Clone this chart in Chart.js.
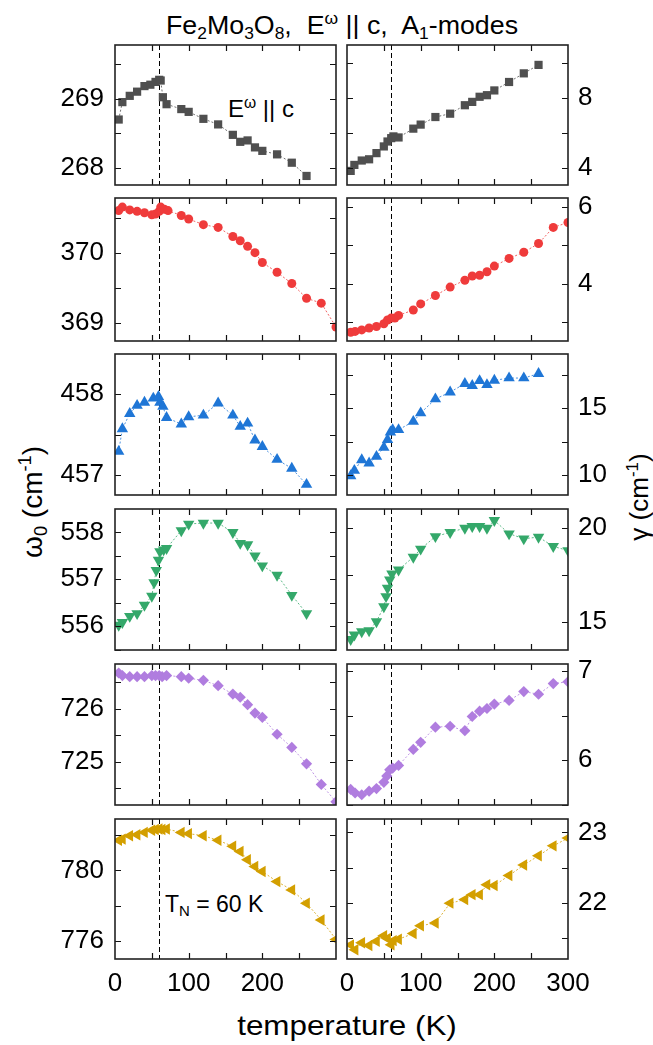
<!DOCTYPE html>
<html>
<head>
<meta charset="utf-8">
<script src="https://cdn.jsdelivr.net/npm/chart.js@4.4.1/dist/chart.umd.min.js"></script>
<style>
  body { margin: 0; background: #fff; }
  #wrap { position: relative; width: 653px; height: 1045px; font-family: "Liberation Sans", Arial, sans-serif; color: #000; overflow: hidden; }
  canvas { position: absolute; }
  .txt { position: absolute; white-space: pre; line-height: 1; }
  .sb { font-size: 0.65em; position: relative; top: 0.3em; }
  .sp { font-size: 0.65em; position: relative; top: -0.6em; }
  .rot { position: absolute; white-space: pre; line-height: 1; transform: translate(-50%, -50%) rotate(-90deg); }
</style>
</head>
<body>
<div id="wrap">
  <div class="txt" style="left:342px; top:12px; font-size:26px; transform:translateX(-50%) scaleX(1.03);">Fe<span class="sb">2</span>Mo<span class="sb">3</span>O<span class="sb">8</span>,  E<span class="sp">ω</span> || c,  A<span class="sb">1</span>-modes</div>
  <div class="txt" style="left:228px; top:97px; font-size:24px;">E<span class="sp">ω</span> || c</div>
  <div class="txt" style="left:165px; top:893px; font-size:23px;">T<span class="sb">N</span> = 60 K</div>
  <div class="txt" style="left:347px; top:1012px; font-size:28px; transform:translateX(-50%) scaleX(1.12);">temperature (K)</div>
  <div class="rot" style="left:33px; top:502px; font-size:28px;">ω<span class="sb">0</span> (cm<span class="sp">-1</span>)</div>
  <div class="rot" style="left:639px; top:497px; font-size:26px;">γ (cm<span class="sp">-1</span>)</div>
</div>
<script>
// temperatures (K) and fitted parameters
const T_N = 60;

const temp1L = [5, 10, 20, 30, 40, 48, 55, 60, 62, 65, 70, 90, 100, 120, 140, 160, 170, 180, 190, 200, 220, 240, 260];
const omega1 = [268.70, 268.95, 269.04, 269.10, 269.18, 269.20, 269.24, 269.27, 269.26, 269.02, 268.92, 268.85, 268.81, 268.71, 268.63, 268.48, 268.38, 268.40, 268.30, 268.25, 268.20, 268.08, 267.89];
const temp1R = [5, 10, 20, 30, 40, 50, 55, 60, 63, 70, 90, 100, 120, 140, 160, 170, 180, 190, 200, 220, 240, 260];
const gamma1 = [3.85, 4.19, 4.44, 4.51, 4.86, 5.24, 5.52, 5.71, 5.81, 5.75, 6.25, 6.48, 6.91, 7.10, 7.58, 7.77, 8.06, 8.15, 8.42, 8.90, 9.39, 9.87];

const temp2L = [5, 10, 20, 30, 40, 50, 55, 60, 62, 67, 72, 90, 100, 120, 140, 160, 170, 180, 190, 200, 220, 240, 260, 280, 300];
const omega2 = [370.60, 370.65, 370.61, 370.59, 370.57, 370.54, 370.55, 370.59, 370.65, 370.62, 370.60, 370.53, 370.48, 370.40, 370.36, 370.23, 370.17, 370.09, 370.00, 369.86, 369.72, 369.56, 369.35, 369.28, 368.94];
const temp2R = [5, 11, 20, 30, 40, 50, 55, 60, 65, 70, 90, 100, 120, 140, 160, 170, 180, 190, 200, 220, 240, 260, 280, 300];
const gamma2 = [2.73, 2.75, 2.79, 2.84, 2.88, 2.95, 3.05, 3.10, 3.10, 3.17, 3.31, 3.47, 3.69, 3.91, 4.09, 4.20, 4.22, 4.31, 4.46, 4.66, 4.82, 5.05, 5.47, 5.60];

const temp3L = [5, 10, 20, 30, 40, 52, 59, 61, 65, 70, 90, 100, 120, 140, 160, 170, 180, 190, 200, 220, 240, 260];
const omega3 = [457.29, 457.57, 457.76, 457.86, 457.90, 457.95, 457.97, 457.90, 457.85, 457.71, 457.63, 457.72, 457.74, 457.89, 457.74, 457.60, 457.64, 457.43, 457.35, 457.19, 457.08, 456.88];
const temp3R = [5, 10, 20, 30, 40, 50, 55, 59, 62, 70, 90, 100, 120, 140, 160, 170, 180, 190, 200, 220, 240, 260];
const gamma3 = [9.93, 10.33, 11.13, 10.88, 11.38, 12.05, 12.63, 13.2, 13.38, 13.38, 14.0, 14.63, 15.68, 16.2, 16.83, 16.68, 17.05, 16.75, 17.08, 17.25, 17.25, 17.58];

const temp4L = [5, 10, 20, 30, 40, 50, 53, 56, 59, 61, 66, 70, 90, 100, 120, 140, 160, 170, 180, 190, 200, 220, 240, 260];
const omega4 = [556.02, 556.08, 556.21, 556.27, 556.45, 556.64, 556.93, 557.19, 557.41, 557.59, 557.63, 557.66, 558.04, 558.18, 558.20, 558.20, 558.00, 557.77, 557.74, 557.50, 557.29, 557.09, 556.66, 556.27];
const temp4R = [5, 10, 20, 30, 40, 50, 53, 55, 58, 61, 70, 90, 100, 120, 140, 160, 170, 180, 190, 200, 220, 240, 260, 280, 300];
const gamma4 = [14.05, 14.29, 14.46, 14.52, 15.0, 15.80, 16.34, 16.79, 17.23, 17.55, 17.77, 18.45, 18.88, 19.55, 19.77, 20.0, 20.09, 20.09, 20.0, 20.41, 19.70, 19.43, 19.52, 19.02, 18.80];

const temp5L = [5, 10, 20, 30, 40, 50, 55, 60, 64, 70, 90, 100, 120, 140, 160, 170, 180, 190, 200, 220, 240, 260, 280, 300];
const omega5 = [726.68, 726.63, 726.61, 726.61, 726.61, 726.63, 726.63, 726.63, 726.61, 726.63, 726.61, 726.58, 726.54, 726.44, 726.28, 726.22, 726.08, 725.92, 725.84, 725.52, 725.27, 724.96, 724.57, 724.24];
const temp5R = [5, 11, 20, 30, 40, 50, 54, 58, 62, 70, 90, 100, 120, 140, 160, 170, 180, 190, 200, 220, 240, 260, 280, 300];
const gamma5 = [5.67, 5.63, 5.61, 5.65, 5.68, 5.75, 5.82, 5.89, 5.91, 5.94, 6.12, 6.20, 6.37, 6.38, 6.33, 6.49, 6.55, 6.58, 6.63, 6.67, 6.77, 6.74, 6.86, 6.88];

const temp6L = [5, 10, 20, 30, 40, 50, 55, 60, 64, 70, 90, 100, 120, 140, 160, 170, 180, 190, 200, 220, 240, 260, 280, 300];
const omega6 = [781.71, 781.78, 781.97, 782.03, 782.16, 782.28, 782.32, 782.35, 782.32, 782.35, 782.16, 782.09, 781.97, 781.71, 781.37, 781.08, 780.61, 780.23, 779.94, 779.37, 778.90, 778.14, 777.19, 776.09];
const temp6R = [5, 11, 20, 30, 40, 50, 55, 60, 63, 70, 90, 100, 120, 140, 160, 170, 180, 190, 200, 220, 240, 260, 280, 300];
const gamma6 = [21.41, 21.34, 21.44, 21.40, 21.46, 21.54, 21.50, 21.41, 21.47, 21.49, 21.57, 21.68, 21.72, 22.0, 22.05, 22.12, 22.12, 22.26, 22.25, 22.39, 22.54, 22.67, 22.81, 22.92];

// y-axis ranges [min, max, minor step, labelled step] per row
const leftAxes = [[267.76, 269.77, 0.5, 1], [368.74, 370.78, 0.5, 1], [456.75, 458.5, 0.5, 1], [555.49, 558.5, 0.5, 1], [724.18, 726.85, 0.5, 1], [774.98, 782.92, 2, 4]];
const rightAxes = [[3.05, 11.0, 2, 4], [2.5, 6.24, 1, 2], [8.5, 19.05, 2.5, 5], [13.48, 21.02, 2.5, 5], [5.495, 7.08, 0.5, 1], [21.21, 23.19, 0.5, 1]];

const colors = ['#4f4f4f', '#ef3b3b', '#1f76d6', '#34a86a', '#b07ddf', '#d39f00'];
const marks = [['rect', 0, 5.8], ['circle', 0, 4.5], ['triangle', 0, 6.6], ['triangle', 180, 6.6], ['rectRot', 0, 5.6], ['triangle', 270, 6.6]];
const rows = [[45, 185], [198, 341], [354, 495], [509, 650], [664, 805], [819, 959]];

const leftData = [[temp1L, omega1], [temp2L, omega2], [temp3L, omega3], [temp4L, omega4], [temp5L, omega5], [temp6L, omega6]];
const rightData = [[temp1R, gamma1], [temp2R, gamma2], [temp3R, gamma3], [temp4R, gamma4], [temp5R, gamma5], [temp6R, gamma6]];

const onStep = (v, s) => Math.abs(v / s - Math.round(v / s)) < 1e-6;
const TICK = 6;

const framePlugin = {
  id: 'frame',
  beforeDatasetsDraw(chart) {
    const { ctx, chartArea: a, scales: { x } } = chart;
    const px = Math.round(x.getPixelForValue(T_N)) + 0.5;
    ctx.save();
    ctx.strokeStyle = '#000';
    ctx.lineWidth = 1;
    ctx.setLineDash([5, 3]);
    ctx.beginPath();
    ctx.moveTo(px, a.top);
    ctx.lineTo(px, a.bottom);
    ctx.stroke();
    ctx.restore();
  },
  afterDraw(chart) {
    const { ctx, chartArea: a, scales: { x, y } } = chart;
    ctx.save();
    ctx.strokeStyle = '#111';
    ctx.lineWidth = 1.2;
    ctx.beginPath();
    x.ticks.forEach(t => {
      if (t.value <= x.min || t.value >= x.max || !onStep(t.value, 50)) return;
      const p = Math.round(x.getPixelForValue(t.value)) + 0.5;
      ctx.moveTo(p, a.top); ctx.lineTo(p, a.top + TICK);
      ctx.moveTo(p, a.bottom); ctx.lineTo(p, a.bottom - TICK);
    });
    const step = y.options.ticks.stepSize;
    y.ticks.forEach(t => {
      if (t.value <= y.min || t.value >= y.max || !onStep(t.value, step)) return;
      const p = Math.round(y.getPixelForValue(t.value)) + 0.5;
      ctx.moveTo(a.left, p); ctx.lineTo(a.left + TICK, p);
      ctx.moveTo(a.right, p); ctx.lineTo(a.right - TICK, p);
    });
    ctx.stroke();
    ctx.lineWidth = 1.6;
    ctx.strokeStyle = '#222';
    ctx.strokeRect(a.left, a.top, a.right - a.left, a.bottom - a.top);
    ctx.restore();
  }
};

const tickFont = { family: 'Liberation Sans', size: 26 };

function panel(row, side) {
  const wrap = document.getElementById('wrap');
  const cv = document.createElement('canvas');
  const [top, bottom] = rows[row];
  const isBottom = row === rows.length - 1;
  const left = side === 'left';
  const xH = isBottom ? 50 : 6;
  const W = left ? 340 : 313;
  const H = (bottom - top) + 6 + xH;
  cv.width = W; cv.height = H;
  cv.style.left = (left ? 0 : 340) + 'px';
  cv.style.top = (top - 6) + 'px';
  wrap.appendChild(cv);

  const [temps, vals] = (left ? leftData : rightData)[row];
  const [ymin, ymax, ystep, ymajor] = (left ? leftAxes : rightAxes)[row];
  const [style, rot, rad] = marks[row];
  const col = colors[row];

  new Chart(cv, {
    type: 'scatter',
    data: {
      datasets: [{
        data: temps.map((t, i) => ({ x: t, y: vals[i] })),
        showLine: true,
        borderColor: col + 'cc',
        borderWidth: 1,
        borderDash: [2, 2],
        backgroundColor: col,
        pointBackgroundColor: col,
        pointBorderWidth: 0,
        pointStyle: style,
        pointRotation: rot,
        pointRadius: rad
      }]
    },
    options: {
      responsive: false,
      animation: false,
      events: [],
      layout: { autoPadding: false, padding: { top: 6, right: left ? 4 : 0, left: left ? 0 : 7, bottom: 0 } },
      plugins: { legend: { display: false }, tooltip: { enabled: false } },
      scales: {
        x: {
          type: 'linear', min: 0, max: 300,
          grid: { display: false, drawTicks: false },
          border: { display: false },
          ticks: {
            display: isBottom, stepSize: 50, autoSkip: false, maxRotation: 0, includeBounds: false,
            font: tickFont, color: '#000', padding: 9,
            callback: v => (onStep(v, 100) && !(left && v === 300)) ? String(v) : ''
          },
          afterFit: s => { s.height = xH; s.paddingLeft = 0; s.paddingRight = 0; }
        },
        y: {
          type: 'linear', position: side, min: ymin, max: ymax,
          grid: { display: false, drawTicks: false },
          border: { display: false },
          ticks: {
            stepSize: ystep, autoSkip: false, includeBounds: false,
            font: tickFont, color: '#000', padding: left ? 11 : 10,
            callback: v => onStep(v, ymajor) ? String(Math.round(v)) : ''
          },
          afterFit: s => { s.width = left ? 115 : 85; s.paddingTop = 0; s.paddingBottom = 0; }
        }
      }
    },
    plugins: [framePlugin]
  });
}

for (let r = 0; r < rows.length; r++) {
  panel(r, 'left');
  panel(r, 'right');
}
</script>
</body>
</html>
